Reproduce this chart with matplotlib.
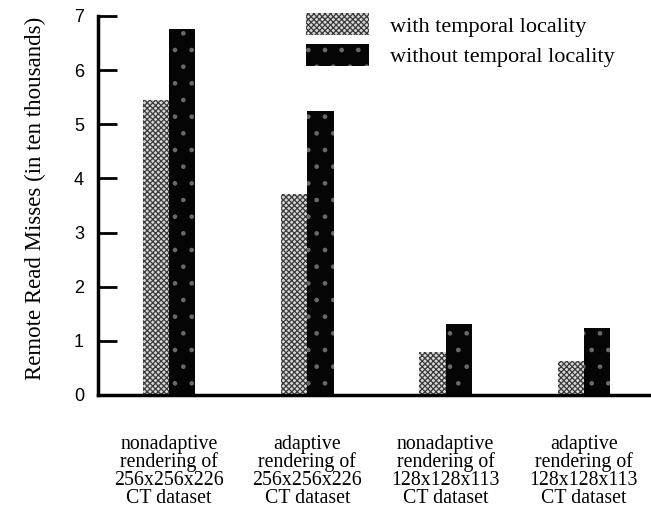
import numpy as np
import matplotlib
matplotlib.use("Agg")
import matplotlib.pyplot as plt
from matplotlib.patches import Patch

### data
categories = [
    "nonadaptive\nrendering of\n256x256x226\nCT dataset",
    "adaptive\nrendering of\n256x256x226\nCT dataset",
    "nonadaptive\nrendering of\n128x128x113\nCT dataset",
    "adaptive\nrendering of\n128x128x113\nCT dataset",
]
with_locality = [5.45, 3.72, 0.80, 0.63]
without_locality = [6.76, 5.24, 1.31, 1.24]
series_names = ["with temporal locality", "without temporal locality"]
yticks = [0, 1, 2, 3, 4, 5, 6, 7]

SERIF = ["Liberation Serif", "DejaVu Serif"]
SANS = ["Liberation Sans", "DejaVu Sans"]

plt.rcParams["hatch.linewidth"] = 0.9

fig = plt.figure(figsize=(6.51, 5.09), dpi=100)
ax = fig.add_axes([0.1505, 0.224, 0.8495, 0.7446])

x = np.arange(len(categories))
w = 0.19

light = dict(facecolor="#d8d8d8", edgecolor="#3a3a3a", hatch="xxxxxx", linewidth=0)
dark = dict(facecolor="#050505", edgecolor="#6a6a6a", hatch=".", linewidth=0)

ax.bar(x - w / 2, with_locality, w, zorder=2, **light)
ax.bar(x + w / 2, without_locality, w, zorder=2, **dark)

ax.set_xlim(-0.513, 3.485)
ax.set_ylim(0, 7)
ax.set_yticks(yticks)
ax.set_yticklabels([str(t) for t in yticks], family=SANS, fontsize=13)
ax.tick_params(axis="y", direction="in", length=14, width=2, pad=10)
ax.set_xticks([])

for s in ["top", "right"]:
    ax.spines[s].set_visible(False)
ax.spines["left"].set_linewidth(2.5)
ax.spines["bottom"].set_linewidth(2.5)

fig.text(35 / 651, 0.611, "Remote Read Misses (in ten thousands)", family=SERIF,
         fontsize=16.5, rotation=90, ha="center", va="center")

# category labels under the axis
for xi, lab in zip(x, categories):
    ax.text(xi, -0.74, lab, ha="center", va="top", family=SERIF, fontsize=14.3,
            linespacing=0.9)

# legend
handles = [Patch(**light), Patch(**dark)]
leg = ax.legend(handles, series_names, loc="upper left",
                bbox_to_anchor=(0.376, 1.008), frameon=False,
                borderpad=0, borderaxespad=0,
                prop={"family": SERIF, "size": 16},
                handlelength=2.85, handleheight=1.17, handletextpad=0.95,
                labelspacing=0.32)

fig.savefig("out.png", dpi=100)
